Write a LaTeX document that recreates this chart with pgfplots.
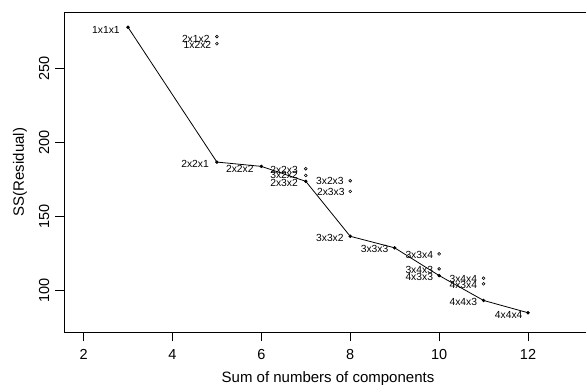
\documentclass[border=0pt]{standalone}
\usepackage{fontspec}
\setmainfont{Liberation Sans}
\usepackage{pgfplots}
\pgfplotsset{compat=1.18}
\newcommand{\tickfont}{\fontsize{14.5bp}{16bp}\selectfont}
\newcommand{\titlefont}{\fontsize{15bp}{17bp}\selectfont}
\newcommand{\labfont}{\fontsize{10.3bp}{11bp}\selectfont}
\begin{document}
\begin{tikzpicture}
\begin{axis}[
  scale only axis,
  width=528bp, height=320bp,
  xmin=1.56, xmax=13.44, ymin=72, ymax=288,
  xtick={2,4,6,8,10,12},
  ytick={100,150,200,250},
  tick align=outside,
  major tick length=9bp,
  xtick pos=bottom, ytick pos=left,
  axis line style={line width=0.8pt},
  tick style={line width=0.8pt, black},
  /pgf/number format/assume math mode=true,
  tick label style={font=\tickfont},
  yticklabel style={rotate=90, anchor=base},
  yticklabel shift=6bp,
  xticklabel style={anchor=base},
  xticklabel shift=18.5bp,
  xlabel={Sum of numbers of components},
  ylabel={SS(Residual)},
  every axis x label/.style={at={([yshift=-50.8bp]rel axis cs:0.5,0)}, anchor=base, font=\titlefont},
  every axis y label/.style={at={([xshift=-40bp]rel axis cs:0,0.5)}, anchor=base, rotate=90, font=\titlefont},
  clip=false,
]
\addplot[black, line width=0.8pt, mark=*, mark size=1.3pt] coordinates {
(3,277.7) (5,186.7) (6,183.8) (7,173.7) (8,136.6) (9,128.8) (10,110.1) (11,93.3) (12,85.0)
};
\addplot[only marks, mark=o, mark size=1.4pt, mark options={line width=0.6pt}] coordinates {
(5,271.4) (5,266.6) (7,182.2) (7,177.7) (8,174.1) (8,166.9) (10,124.7) (10,114.6) (11,108.3) (11,104.5)
};
\begin{scope}[every node/.style={anchor=east, inner sep=0pt, font=\labfont}]
\node at (axis cs:2.818,276.1) {1x1x1};
\node at (axis cs:4.838,269.8) {2x1x2};
\node at (axis cs:4.876,265.8) {1x2x2};
\node at (axis cs:4.822,185.6) {2x2x1};
\node at (axis cs:5.829,182.0) {2x2x2};
\node at (axis cs:6.826,181.5) {2x2x3};
\node at (axis cs:6.826,177.7) {3x2x2};
\node at (axis cs:6.826,172.6) {2x3x2};
\node at (axis cs:7.856,173.7) {3x2x3};
\node at (axis cs:7.878,166.2) {2x3x3};
\node at (axis cs:7.856,135.7) {3x3x2};
\node at (axis cs:8.862,128.1) {3x3x3};
\node at (axis cs:9.867,124.3) {3x3x4};
\node at (axis cs:9.867,114.2) {3x4x3};
\node at (axis cs:9.867,109.2) {4x3x3};
\node at (axis cs:10.858,107.9) {3x4x4};
\node at (axis cs:10.858,103.6) {4x3x4};
\node at (axis cs:10.858,92.1) {4x4x3};
\node at (axis cs:11.88,83.8) {4x4x4};
\end{scope}
\coordinate (sw) at (rel axis cs:0,0);
\coordinate (ne) at (rel axis cs:1,1);
\end{axis}
\pgfresetboundingbox
\path[use as bounding box] ([shift={(-64bp,-53bp)}]sw) rectangle ([shift={(-6bp,12bp)}]ne);
\end{tikzpicture}
\end{document}
